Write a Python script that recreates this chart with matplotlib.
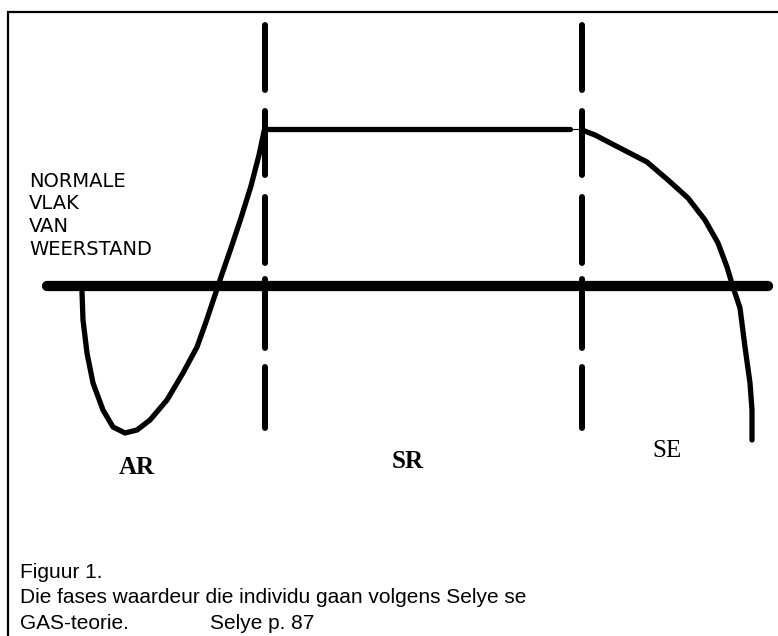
import matplotlib
matplotlib.use("Agg")
import matplotlib.pyplot as plt

# ---- data (diagram coordinates, pixel-like units, y grows downward) ----
ar_x = [82, 83, 87, 93, 103, 113, 125, 137, 150, 167, 183, 197, 206, 214, 222, 231, 241, 251, 259, 265]
ar_y = [292, 320, 353, 383, 410, 427, 433, 430, 420, 400, 373, 347, 322, 298, 274, 248, 218, 186, 155, 127]

se_x = [582, 595, 618, 647, 668, 688, 705, 718, 727, 733, 740, 745, 750, 752, 752]
se_y = [130, 135, 147, 162, 180, 198, 220, 243, 267, 287, 308, 347, 383, 410, 440]

plateau_x = [266, 570]
plateau_level = 129
connector_x = [570, 582]

baseline_x = [47, 768]
baseline_level = 286

divider_x = [265, 582]
dash_starts = [25, 111, 197, 279, 367]
dash_ends = [90, 175, 263, 348, 428]

side_label = ["NORMALE", "VLAK", "VAN", "WEERSTAND"]
side_baselines = [187, 209, 232, 255]

phase_labels = ["AR", "SR", "SE"]
phase_x = [137, 408, 667]
phase_y = [467, 462, 451]
phase_bold = [True, True, False]

caption_lines = ["Figuur 1.",
                 "Die fases waardeur die individu gaan volgens Selye se",
                 "GAS-teorie."]
caption_baselines = [578, 603, 629]
source_text = "Selye p. 87"
source_x = 210

W, H = 778, 636
fig = plt.figure(figsize=(W / 100, H / 100), dpi=100)
ax = fig.add_axes([0, 0, 1, 1])
ax.set_xlim(0, W)
ax.set_ylim(H, 0)
ax.axis("off")

# frame (only top and left visible)
ax.plot([8, 8, W + 20], [H + 20, 12, 12], color="black", lw=1.6,
        solid_joinstyle="miter")

# baseline
ax.plot(baseline_x, [baseline_level] * 2, color="black", lw=7.4,
        solid_capstyle="round")

# dashed dividers
for dx in divider_x:
    for s, e in zip(dash_starts, dash_ends):
        ax.plot([dx, dx], [s, e], color="black", lw=4.3, solid_capstyle="round")

# plateau
ax.plot(plateau_x, [plateau_level] * 2, color="black", lw=3.8,
        solid_capstyle="round")
ax.plot(connector_x, [plateau_level] * 2, color="black", lw=0.8)

# curves
ax.plot(ar_x, ar_y, color="black", lw=3.8, solid_capstyle="round",
        solid_joinstyle="round")
ax.plot(se_x, se_y, color="black", lw=3.8, solid_capstyle="round",
        solid_joinstyle="round")

# side label
for t, b in zip(side_label, side_baselines):
    ax.text(29, b, t, fontsize=14, family="DejaVu Sans", va="baseline",
            ha="left", color="black")

# phase labels
for t, x, y, bold in zip(phase_labels, phase_x, phase_y, phase_bold):
    ax.text(x, y, t, fontsize=18, family="Liberation Serif",
            fontweight="bold" if bold else "normal", ha="center",
            va="center", color="black")

# caption
for t, b in zip(caption_lines, caption_baselines):
    ax.text(20, b, t, fontsize=15, family="Liberation Sans", va="baseline",
            ha="left", color="black")
ax.text(source_x, caption_baselines[-1], source_text, fontsize=15,
        family="Liberation Sans", va="baseline", ha="left", color="black")

fig.savefig("out.png", dpi=100, facecolor="white")
